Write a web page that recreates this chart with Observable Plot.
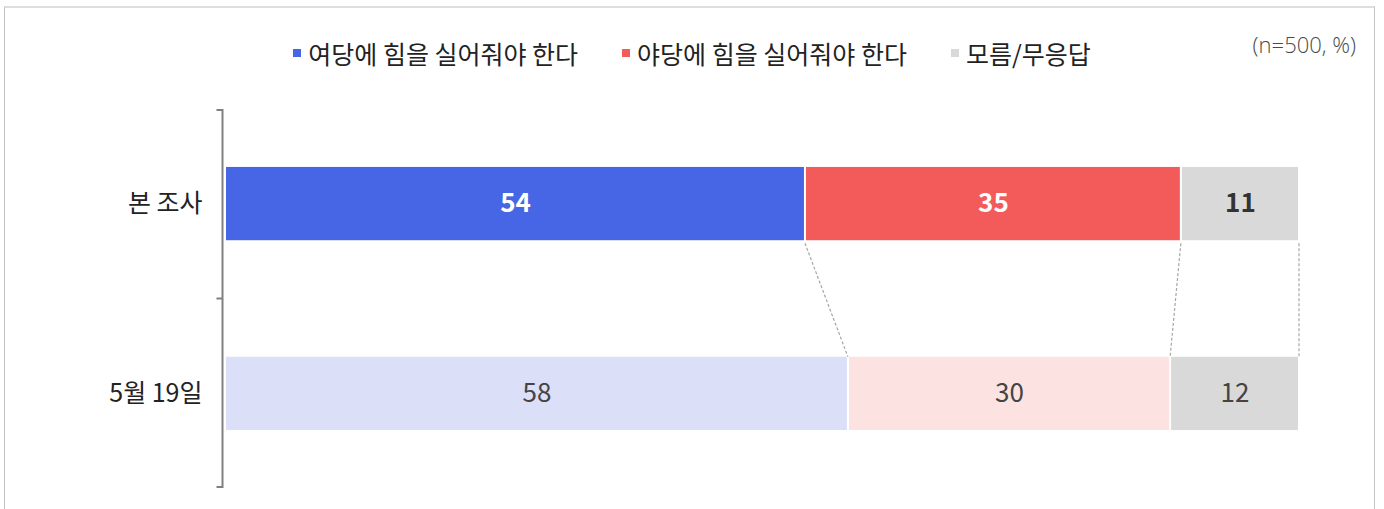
<!DOCTYPE html>
<html>
<head>
<meta charset="utf-8">
<script src="https://cdn.jsdelivr.net/npm/d3@7"></script>
<script src="https://cdn.jsdelivr.net/npm/@observablehq/plot@0.6"></script>
<style>
  html, body { margin: 0; padding: 0; background: #fff; }
  body { width: 1384px; height: 509px; position: relative; overflow: hidden;
         font-family: "Noto Sans CJK KR", "Noto Sans", sans-serif; }
  #frame { position: absolute; left: 4px; top: 6px; width: 1371px; height: 520px;
           border-top: 2px solid #dedede; border-left: 1px solid #c4c4c4; border-right: 1px solid #c4c4c4; box-sizing: border-box; }
  #legend { position: absolute; left: 0; top: 35px; width: 1384px; display: flex; justify-content: center;
            gap: 44px; font-size: 25px; color: #222; line-height: 36px; }
  #legend .item { display: flex; align-items: center; }
  #legend .sw { width: 8px; height: 8px; margin-right: 7px; }
  #note { position: absolute; right: 28px; top: 29px; font-size: 22px; color: #4a4a4a; font-weight: 300;
          font-family: "Open Sans", "Noto Sans", sans-serif; }
  #chart { position: absolute; left: 0; top: 90px; }
</style>
</head>
<body>
<div id="frame"></div>
<div id="legend"></div>
<div id="note">(n=500, %)</div>
<div id="chart"></div>
<script>
// ---- data ----
const categories = ["본 조사", "5월 19일"];
const seriesNames = ["여당에 힘을 실어줘야 한다", "야당에 힘을 실어줘야 한다", "모름/무응답"];
const currentValues = [54, 35, 11];   // 본 조사
const previousValues = [58, 30, 12];  // 5월 19일

// ---- styles ----
const strongColors = ["#4666e5", "#f35a5a", "#d9d9d9"];
const paleColors = ["#dbe0f8", "#fde2e2", "#d9d9d9"];
const strongTextColors = ["#ffffff", "#ffffff", "#333333"];
const PI = 0.614, PO = 0.30;

// legend
const legend = document.getElementById("legend");
seriesNames.forEach((name, j) => {
  const item = document.createElement("div");
  item.className = "item";
  const sw = document.createElement("span");
  sw.className = "sw";
  sw.style.background = strongColors[j];
  const t = document.createElement("span");
  t.textContent = name;
  item.appendChild(sw); item.appendChild(t);
  legend.appendChild(item);
});

// table
const rows = [];
[currentValues, previousValues].forEach((vals, i) => {
  vals.forEach((v, j) => {
    rows.push({
      cat: categories[i], series: seriesNames[j], order: j, value: v,
      fill: i === 0 ? strongColors[j] : paleColors[j],
      textFill: i === 0 ? strongTextColors[j] : "#444444",
      current: i === 0
    });
  });
});

// connectors + bracket, drawn through the plot's scales
function decorations(index, scales, values, dims) {
  const x = scales.x, y = scales.y;
  const step = y(categories[1]) - y(categories[0]);
  const bw = step * (1 - PI);
  const expectedStart = dims.marginTop + PO * step;
  const centered = Math.abs(y(categories[0]) - expectedStart) > Math.abs(y(categories[0]) - (expectedStart + bw / 2));
  const top = c => centered ? y(c) - bw / 2 : y(c);
  const g = d3.create("svg:g");
  const cum0 = d3.cumsum(currentValues), cum1 = d3.cumsum(previousValues);
  const yA = top(categories[0]) + bw + 3, yB = top(categories[1]);
  cum0.forEach((c, k) => {
    g.append("line")
      .attr("x1", x(c)).attr("y1", yA)
      .attr("x2", x(cum1[k])).attr("y2", yB)
      .attr("stroke", "#a6a6a6").attr("stroke-width", 1.2)
      .attr("stroke-dasharray", "3,2");
  });
  const ax = dims.marginLeft - 2.5, tk = 6;
  const t0 = dims.marginTop, t2 = dims.height - dims.marginBottom;
  const t1 = top(categories[1]) - PI * step / 2;
  g.append("path")
    .attr("d", `M${ax - tk},${t0}H${ax}V${t2}H${ax - tk}M${ax - tk},${t1}H${ax}`)
    .attr("fill", "none").attr("stroke", "#808080").attr("stroke-width", 2);
  return g.node();
}

const chart = Plot.plot({
  width: 1384,
  height: 410,
  marginTop: 20,
  marginBottom: 13,
  marginLeft: 225,
  marginRight: 85,
  style: { fontFamily: '"Noto Sans CJK KR", "Noto Sans", sans-serif', background: "transparent" },
  x: { domain: [0, 100], axis: null },
  y: { domain: categories, paddingInner: PI, paddingOuter: PO, round: false, label: null },
  color: { type: "identity" },
  marks: [
    Plot.axisY({ tickSize: 0, tickPadding: 23, fontSize: 25, color: "#222", label: null }),
    Plot.barX(rows, Plot.stackX({
      x: "value", y: "cat", fill: "fill", order: "order",
      insetLeft: 1, insetRight: 1
    })),
    Plot.textX(rows.filter(d => d.current), Plot.stackX({
      x: "value", y: "cat", order: "order", text: d => String(d.value),
      fill: "textFill", fontSize: 26, fontWeight: "bold"
    })),
    Plot.textX(rows.filter(d => !d.current), Plot.stackX({
      x: "value", y: "cat", order: "order", text: d => String(d.value),
      fill: "textFill", fontSize: 26, fontWeight: "normal"
    })),
    decorations
  ]
});
document.getElementById("chart").appendChild(chart);
</script>
</body>
</html>
